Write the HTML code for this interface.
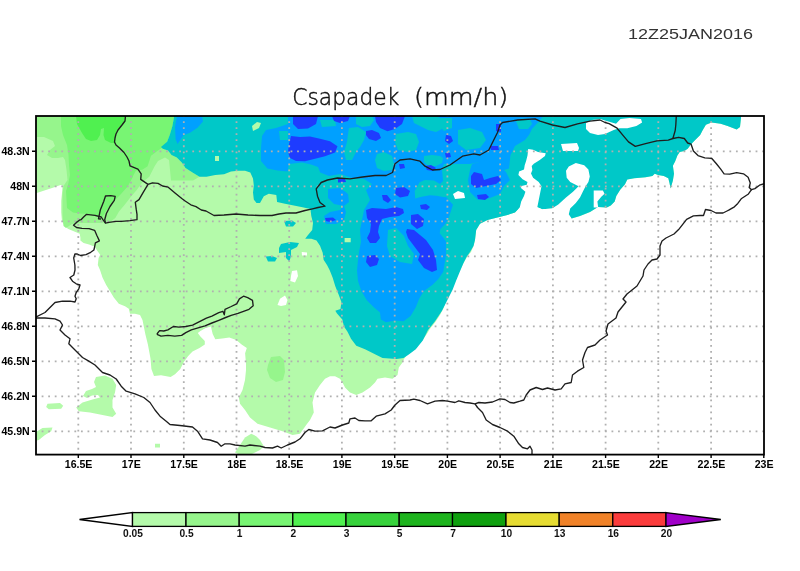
<!DOCTYPE html>
<html><head><meta charset="utf-8"><style>
html,body{margin:0;padding:0;background:#fff;overflow:hidden}
svg{display:block}
.t1{font-family:"Liberation Sans",sans-serif;font-size:14px;fill:#333}
.t2{font-family:"DejaVu Sans",sans-serif;font-weight:200;font-size:23px;fill:#111;stroke:#111;stroke-width:0.45px}
.ax{font-family:"Liberation Sans",sans-serif;font-size:10.6px;font-weight:bold;fill:#000}
.cb{font-family:"Liberation Sans",sans-serif;font-size:10.2px;font-weight:bold;fill:#111}
</style></head><body>
<svg width="800" height="571" viewBox="0 0 800 571">
<rect x="0" y="0" width="800" height="571" fill="#fff"/>
<text x="628" y="39" textLength="125" lengthAdjust="spacingAndGlyphs" class="t1">12Z25JAN2016</text>
<text x="292.3" y="104.5" textLength="107" lengthAdjust="spacingAndGlyphs" class="t2">Csapadek</text><text x="414" y="104.5" textLength="94.3" lengthAdjust="spacingAndGlyphs" class="t2">(mm/h)</text>
<clipPath id="cp"><rect x="36" y="116" width="728" height="338.6"/></clipPath>
<g clip-path="url(#cp)">
<polygon points="36.0,116.0 741.2,116.0 740.0,127.0 736.7,129.4 727.6,126.0 720.7,123.7 711.6,122.5 705.9,124.8 702.5,130.5 700.2,135.1 695.7,139.6 691.1,144.2 687.7,148.7 684.3,151.0 679.7,152.1 677.4,155.6 675.2,161.3 672.9,165.8 674.0,173.8 672.9,180.6 670.6,188.6 669.5,182.9 668.3,178.3 663.8,176.1 658.1,174.9 654.7,173.8 652.4,176.1 645.6,177.2 634.2,178.3 627.3,179.5 625.0,184.2 620.2,189.7 616.3,196.0 614.7,201.5 610.8,205.5 606.8,207.5 598.0,207.0 590.0,212.0 580.0,216.0 571.6,218.4 560.0,208.0 552.0,208.6 542.2,209.3 537.3,207.2 532.5,205.0 525.0,206.2 518.8,208.8 515.0,212.5 507.5,215.0 497.5,217.5 487.5,220.0 480.0,223.8 476.2,230.0 475.0,240.0 473.5,246.0 471.0,252.0 467.5,256.2 463.8,262.5 460.0,270.0 456.2,277.5 453.8,285.0 450.0,292.5 446.2,300.0 443.8,307.5 440.0,315.0 435.0,322.5 430.0,328.8 426.2,335.0 422.5,340.0 417.5,345.0 412.5,348.8 407.5,354.0 404.0,359.0 402.5,362.5 398.8,367.5 397.5,375.0 392.5,378.8 385.0,377.5 377.5,378.8 375.0,382.5 370.0,387.5 362.5,392.5 356.2,395.0 350.0,392.5 345.0,387.5 342.5,382.5 340.0,378.8 335.0,376.2 330.0,376.2 325.0,378.8 320.0,385.0 315.0,392.5 312.5,402.5 313.8,412.5 310.0,420.0 306.2,425.0 300.0,433.8 292.5,435.0 282.5,431.2 270.0,427.5 257.5,423.8 250.0,417.5 245.0,410.0 240.0,403.8 238.8,397.5 242.5,390.0 245.0,380.0 246.0,370.0 246.0,363.8 245.1,353.3 246.8,348.0 241.6,344.5 236.3,340.1 229.3,337.5 222.3,338.4 215.3,339.3 212.7,334.0 210.9,326.5 205.7,327.9 200.4,330.9 197.8,333.1 200.4,336.6 204.8,341.0 204.8,344.5 199.5,348.0 192.5,351.5 188.2,355.9 183.8,362.0 180.3,369.0 175.0,374.3 170.6,376.9 161.0,375.2 154.0,376.0 151.4,369.0 150.5,358.5 147.9,344.5 145.3,334.0 142.5,320.0 140.0,315.0 135.0,313.8 130.0,313.8 128.8,308.8 125.0,306.2 118.8,303.8 113.8,297.5 110.0,291.2 106.2,285.0 102.5,277.5 100.0,270.0 97.8,265.0 98.6,257.9 100.2,254.7 97.8,251.5 94.6,246.8 89.1,244.4 83.6,242.9 80.4,240.5 80.4,237.4 79.7,233.8 74.9,231.8 67.8,228.7 63.9,224.7 61.9,220.6 61.2,212.2 61.2,201.0 61.9,194.0 62.6,185.6 60.5,185.0 52.8,187.7 44.4,190.5 35.0,193.5" fill="#b4faaa"/>
<polygon points="235.0,452.5 240.0,445.0 245.0,437.5 251.2,433.8 256.2,436.2 260.0,440.0 263.8,446.2 260.0,450.0 252.5,453.8 242.5,456.0" fill="#b4faaa"/>
<polygon points="96.0,377.0 105.0,375.5 112.5,378.8 116.2,385.0 115.0,392.5 112.5,400.0 112.5,407.5 116.2,413.8 112.5,417.0 102.5,415.0 90.0,412.5 78.8,411.2 76.2,407.5 82.5,402.5 92.5,399.5 100.0,397.5 98.0,395.0 92.0,395.5 87.0,398.0 83.0,396.0 86.0,391.0 92.0,389.0 96.0,387.0 94.0,382.0" fill="#b4faaa"/>
<polygon points="47.5,403.8 60.0,403.0 63.2,405.8 61.2,408.8 48.8,409.2 46.2,407.0" fill="#b4faaa"/>
<polygon points="35.0,432.5 42.5,428.0 52.5,427.5 51.2,431.2 45.0,435.0 38.8,440.0 35.0,441.0" fill="#b4faaa"/>
<polygon points="155.0,443.8 160.0,443.8 160.0,447.5 155.0,447.5" fill="#b4faaa"/>
<polygon points="36.0,116.0 174.2,116.0 172.4,126.0 169.8,134.8 167.1,141.8 161.0,147.0 168.0,150.5 171.5,154.9 176.8,157.5 182.0,162.8 185.5,168.0 192.5,172.4 199.5,176.8 193.0,180.4 180.0,180.6 171.0,180.4 170.0,170.0 169.0,160.0 165.0,157.5 158.0,161.0 154.6,166.3 149.3,176.8 142.2,182.5 136.5,190.2 130.7,196.9 124.9,204.6 119.0,211.4 115.3,218.0 110.0,222.0 100.0,223.0 90.0,223.0 80.0,223.0 72.0,224.0 66.0,228.0 63.5,226.0 62.5,215.0 62.5,195.0 63.5,186.0 67.5,180.0 66.5,170.0 65.0,160.0 63.0,157.0 58.0,158.0 52.0,158.0 47.0,155.0 50.0,150.0 55.0,146.0 53.0,141.0 44.0,137.0 35.0,137.0" fill="#96f58c"/>
<polygon points="61.0,116.0 174.2,116.0 172.4,126.0 169.8,134.8 167.1,141.8 163.3,147.0 158.0,150.5 151.0,155.8 149.3,161.0 147.6,166.3 142.3,169.8 136.0,170.5 133.5,175.0 132.6,177.6 127.8,186.3 121.0,194.0 115.3,199.8 110.5,205.6 105.6,211.4 101.8,218.0 95.0,216.0 88.0,214.0 80.0,213.5 73.0,212.6 67.0,208.0 66.0,191.0 68.0,185.0 70.0,175.0 69.0,165.0 68.5,155.0 67.0,145.0 63.0,135.0 61.0,126.0" fill="#78f573"/>
<polygon points="76.0,116.0 126.0,116.0 125.0,121.5 123.5,124.0 118.5,128.0 116.0,133.0 115.0,143.0 111.0,143.0 105.0,140.0 103.5,135.0 104.0,128.0 101.0,129.0 100.0,135.0 97.0,140.0 91.0,141.0 86.0,139.0 82.0,133.0 77.0,124.0" fill="#50f050"/>
<polygon points="268.0,365.0 271.0,357.0 280.0,356.0 284.0,360.0 285.0,372.0 283.0,380.0 276.0,382.0 270.0,378.0 267.0,370.0" fill="#96f58c"/>
<polygon points="174.2,116.0 741.2,116.0 740.0,127.0 736.7,129.4 727.6,126.0 720.7,123.7 711.6,122.5 705.9,124.8 702.5,130.5 700.2,135.1 695.7,139.6 691.1,144.2 687.7,148.7 684.3,151.0 679.7,152.1 677.4,155.6 675.2,161.3 672.9,165.8 674.0,173.8 672.9,180.6 670.6,188.6 669.5,182.9 668.3,178.3 663.8,176.1 658.1,174.9 654.7,173.8 652.4,176.1 645.6,177.2 634.2,178.3 627.3,179.5 625.0,184.2 620.2,189.7 616.3,196.0 614.7,201.5 610.8,205.5 606.8,207.5 598.0,207.0 590.0,212.0 580.0,216.0 571.6,218.4 560.0,208.0 552.0,208.6 542.2,209.3 537.3,207.2 532.5,205.0 525.0,206.2 518.8,208.8 515.0,212.5 507.5,215.0 497.5,217.5 487.5,220.0 480.0,223.8 476.2,230.0 475.0,240.0 473.5,246.0 470.0,252.0 466.5,257.0 463.5,263.0 459.6,272.3 456.0,281.0 452.6,289.8 447.3,300.3 442.0,310.8 435.0,321.3 428.0,330.0 422.8,340.6 415.8,349.3 408.8,354.6 403.6,358.0 396.5,359.0 382.5,358.0 375.5,354.6 365.0,349.3 356.3,345.8 351.0,338.8 347.5,331.8 344.0,326.5 342.3,319.5 337.0,313.4 335.3,310.8 340.5,309.0 341.4,302.0 338.8,295.0 335.3,286.3 332.6,277.5 329.7,270.3 327.0,265.0 323.6,259.8 322.7,252.8 320.0,245.8 316.5,240.5 311.3,238.8 305.2,238.8 307.8,235.3 312.2,230.0 313.0,223.0 311.3,216.0 310.4,209.0 302.5,207.3 293.8,205.5 285.0,203.8 277.1,202.0 276.3,195.0 268.8,193.8 263.8,196.2 260.0,203.1 256.5,203.1 253.8,199.6 253.0,192.6 253.8,185.6 253.0,178.5 250.3,172.4 245.0,170.7 238.0,170.7 231.0,171.5 224.0,174.2 215.3,175.0 206.5,176.8 199.5,176.8 192.5,172.4 185.5,168.0 182.0,162.8 176.8,157.5 171.5,154.9 168.0,150.5 162.8,148.8 161.0,147.0 167.1,141.8 169.8,134.8 172.4,126.0" fill="#00c8c8"/>
<polygon points="284.0,221.0 292.0,220.5 296.0,223.0 293.0,226.5 286.0,226.5" fill="#00c8c8"/>
<polygon points="281.0,244.0 290.0,242.0 299.0,243.0 297.0,247.0 291.0,250.0 291.0,256.0 289.4,261.5 286.0,258.0 286.0,252.0 279.0,253.0 279.0,248.0" fill="#00c8c8"/>
<polygon points="265.8,256.5 272.0,256.0 277.0,258.0 275.0,261.5 268.0,261.5" fill="#00c8c8"/>
<polygon points="177.0,116.0 202.0,116.0 203.0,121.5 197.5,127.8 190.0,132.8 183.8,135.0 181.0,139.0 177.5,144.0 175.6,139.0 175.0,126.5" fill="#00a0ff"/>
<polygon points="288.0,116.0 548.0,116.0 542.5,117.0 538.8,121.5 532.0,129.0 529.0,135.0 525.0,140.0 515.0,146.0 510.5,155.0 509.0,168.5 504.0,170.0 496.0,168.0 490.0,164.0 480.0,162.0 470.0,164.0 460.0,164.0 444.0,164.0 442.0,170.0 443.0,180.0 446.0,186.0 446.0,197.0 453.0,204.7 449.0,217.0 447.4,220.6 444.6,224.8 440.4,229.0 439.7,233.2 443.2,237.4 446.0,241.6 446.0,255.0 444.5,264.3 443.3,271.7 438.4,279.0 432.3,285.0 423.7,291.3 419.3,298.5 415.8,307.3 410.6,316.0 403.6,321.3 394.8,320.4 386.0,322.2 380.8,319.5 380.0,312.5 373.8,307.3 366.8,300.3 361.5,291.5 358.0,281.0 357.0,270.5 358.0,260.0 359.0,252.0 361.0,242.0 360.0,230.0 362.0,220.0 364.0,210.0 370.0,200.0 366.0,190.0 372.0,184.0 364.0,179.0 352.0,178.0 340.5,174.0 329.0,176.0 320.2,172.5 318.0,167.0 311.0,164.6 302.0,162.4 289.0,164.0 287.6,171.4 277.5,170.5 267.4,168.6 261.0,161.0 261.0,148.0 262.0,136.0 266.0,130.0 276.0,128.0 288.0,124.0" fill="#00a0ff"/>
<polygon points="472.0,164.0 486.0,160.0 498.0,164.0 506.0,172.0 510.0,180.0 504.0,186.0 500.0,194.0 490.0,198.0 478.0,200.0 470.0,192.0 468.0,180.0 470.0,170.0" fill="#00a0ff"/>
<polygon points="328.0,189.0 340.0,188.0 348.0,194.0 349.0,202.0 344.0,206.0 334.0,204.0 328.0,198.0" fill="#00a0ff"/>
<polygon points="328.0,190.0 336.0,189.0 346.0,192.0 348.0,200.0 340.0,210.0 330.0,212.0 324.0,216.0 326.0,224.0 336.0,224.0 344.0,220.0 346.0,212.0 344.0,206.0" fill="#00a0ff"/>
<polygon points="320.0,120.0 335.0,120.0 336.0,126.0 322.0,127.0" fill="#00c8c8"/>
<polygon points="356.0,116.0 372.0,116.0 374.0,120.0 370.0,126.0 362.0,127.0 356.0,124.0" fill="#00c8c8"/>
<polygon points="279.0,131.0 288.0,131.0 288.0,140.0 280.0,140.0" fill="#00c8c8"/>
<polygon points="349.0,128.0 358.0,127.0 366.0,132.0 364.0,140.0 360.0,147.0 356.0,152.0 352.0,160.0 346.0,160.0 344.0,152.0 347.0,142.0 348.0,134.0" fill="#00c8c8"/>
<polygon points="377.0,154.0 384.0,152.0 392.0,156.0 394.0,164.0 392.0,170.0 384.0,171.0 377.0,168.0 375.0,160.0" fill="#00c8c8"/>
<polygon points="396.0,134.0 408.0,132.0 416.0,134.0 419.0,142.0 416.0,150.0 408.0,152.0 398.0,150.0 395.0,142.0" fill="#00c8c8"/>
<polygon points="412.0,116.0 436.0,116.0 444.0,120.0 444.0,128.0 436.0,132.0 428.0,130.0 420.0,126.0 414.0,123.0" fill="#00c8c8"/>
<polygon points="424.0,156.0 432.0,155.0 440.0,156.0 443.0,158.0 442.0,163.0 436.0,166.0 428.0,166.0 424.0,162.0" fill="#00c8c8"/>
<polygon points="458.0,130.0 470.0,128.0 482.0,132.0 486.0,140.0 480.0,148.0 466.0,150.0 458.0,144.0" fill="#00c8c8"/>
<polygon points="440.0,118.0 452.0,118.0 452.0,128.0 444.0,131.0 440.0,126.0" fill="#00c8c8"/>
<polygon points="516.0,121.0 522.0,118.5 530.0,119.0 532.0,124.0 528.0,129.0 519.0,129.0" fill="#00c8c8"/>
<polygon points="388.0,230.0 396.0,228.0 404.0,236.0 408.0,246.0 414.0,254.0 412.0,264.0 400.0,262.0 390.0,256.0 387.0,246.0" fill="#00c8c8"/>
<polygon points="414.7,191.0 419.4,182.6 424.7,180.0 434.0,180.5 440.0,184.0 446.0,178.0 452.0,180.0 452.0,195.0 444.7,197.3 436.3,195.8 430.0,195.2 421.5,196.8 415.2,198.4" fill="#00c8c8"/>
<polygon points="293.0,116.0 318.0,116.0 316.0,124.0 308.0,128.5 298.0,129.0 293.0,124.0" fill="#1e3cff"/>
<polygon points="291.0,136.0 300.0,137.0 310.0,136.5 320.0,138.8 330.0,141.2 337.5,146.2 335.0,152.5 325.0,156.2 315.0,158.8 305.0,161.2 296.0,161.0 290.0,158.0 288.0,152.0 289.0,144.0" fill="#1e3cff"/>
<polygon points="332.0,116.0 350.0,116.0 348.0,121.0 340.0,123.0 334.0,121.0" fill="#1e3cff"/>
<polygon points="375.0,116.0 405.0,116.0 402.0,124.0 395.0,129.0 387.5,131.2 380.0,128.0 376.0,122.0" fill="#1e3cff"/>
<polygon points="366.0,131.0 372.0,130.0 379.0,133.0 381.0,138.0 376.0,141.0 369.0,139.0 366.0,135.0" fill="#1e3cff"/>
<polygon points="446.0,135.0 451.0,136.0 453.0,141.0 449.0,144.0 445.0,141.0" fill="#1e3cff"/>
<polygon points="445.0,153.0 450.0,153.0 451.0,157.0 446.0,158.0" fill="#1e3cff"/>
<polygon points="425.0,166.0 431.0,165.0 436.0,168.0 433.0,171.0 427.0,170.0" fill="#1e3cff"/>
<polygon points="399.0,164.0 404.0,164.0 405.0,168.0 400.0,169.0" fill="#1e3cff"/>
<polygon points="396.0,188.0 404.0,187.0 410.0,191.0 408.0,196.0 400.0,197.5 395.0,194.0" fill="#1e3cff"/>
<polygon points="382.0,195.0 387.0,195.0 391.0,200.0 388.0,203.0 383.0,200.0" fill="#1e3cff"/>
<polygon points="366.0,210.0 372.0,208.0 386.0,209.0 396.0,207.0 403.0,209.0 404.0,213.0 399.0,216.0 390.0,217.0 382.0,219.0 379.0,226.0 378.0,232.0 380.0,238.0 376.0,243.0 370.0,243.0 367.0,238.0 370.0,232.0 371.0,224.0 367.0,218.0" fill="#1e3cff"/>
<polygon points="411.0,215.0 418.0,214.0 424.0,219.0 423.0,226.0 417.0,229.0 411.0,224.0" fill="#1e3cff"/>
<polygon points="407.0,229.0 414.0,230.0 426.0,240.0 433.0,250.0 436.0,260.0 437.0,270.0 432.0,272.0 424.0,268.0 418.0,260.0 420.0,254.0 414.0,246.0 408.0,238.0 406.0,232.0" fill="#1e3cff"/>
<polygon points="420.0,205.0 426.0,204.0 430.0,207.0 427.0,210.0 421.0,209.0" fill="#1e3cff"/>
<polygon points="474.0,172.0 482.0,174.0 484.0,180.0 490.0,178.0 498.0,176.0 501.0,180.0 496.0,184.0 486.0,186.0 476.0,188.0 471.0,184.0 471.0,176.0" fill="#1e3cff"/>
<polygon points="477.0,195.0 486.0,194.0 489.0,197.0 485.0,200.0 478.0,199.0" fill="#1e3cff"/>
<polygon points="490.0,146.0 498.0,146.0 499.0,150.0 491.0,150.0" fill="#1e3cff"/>
<polygon points="496.0,124.0 501.0,124.0 501.0,132.0 496.0,131.0" fill="#1e3cff"/>
<polygon points="338.0,179.0 345.0,179.0 346.0,182.0 338.0,182.5" fill="#1e3cff"/>
<polygon points="325.0,218.0 333.0,217.5 336.0,220.0 330.0,222.0 326.0,221.0" fill="#1e3cff"/>
<polygon points="367.0,256.0 375.0,255.0 379.0,259.0 377.0,265.0 370.0,267.0 366.0,262.0" fill="#1e3cff"/>
<polygon points="252.0,126.0 257.0,122.0 261.0,123.0 259.0,128.0 253.0,131.0" fill="#b4faaa"/>
<polygon points="215.0,156.0 219.0,156.0 219.0,161.0 215.0,161.0" fill="#b4faaa"/>
<polygon points="344.6,238.0 350.7,238.0 350.7,242.3 344.6,242.3" fill="#b4faaa"/>
<polygon points="453.0,194.0 458.0,191.0 464.0,193.0 465.0,198.0 455.0,199.0" fill="#ffffff"/>
<polygon points="561.0,144.0 577.0,143.0 579.0,148.0 578.0,151.0 563.0,151.0" fill="#ffffff"/>
<polygon points="586.0,123.0 592.0,120.0 600.0,119.0 616.0,123.7 620.5,119.1 629.6,118.0 641.0,119.1 642.1,122.5 636.4,126.0 627.3,128.2 619.4,128.2 613.7,130.0 605.0,134.0 598.0,135.0 590.0,133.0 586.0,129.0" fill="#ffffff"/>
<polygon points="528.2,149.1 533.1,149.8 538.0,151.9 545.7,153.3 545.0,156.1 539.4,160.3 533.8,163.8 531.7,165.9 532.4,170.1 531.0,173.6 533.1,177.8 538.7,182.0 541.5,186.2 540.1,193.2 538.7,200.2 537.3,207.2 542.2,209.3 542.0,215.0 520.0,215.0 515.6,212.8 519.8,207.2 521.2,201.6 524.0,196.0 525.4,191.8 521.2,188.3 520.5,186.2 526.8,184.8 527.5,182.0 522.6,179.2 518.4,175.0 519.1,171.5 524.0,169.4 524.7,165.2 526.1,161.0 527.5,155.4" fill="#ffffff"/>
<polygon points="542.2,209.3 552.0,208.6 558.3,204.4 566.0,197.4 573.0,191.8 578.6,186.2 570.2,182.0 566.7,177.8 566.0,170.8 568.8,166.6 575.8,163.1 584.2,165.2 588.4,169.4 589.8,176.4 588.4,182.0 585.6,186.2 582.8,191.8 580.0,197.4 575.8,203.0 570.2,208.6 568.8,214.2 571.6,218.4 560.0,220.0 542.0,215.0" fill="#ffffff"/>
<polygon points="593.7,190.5 602.9,190.5 604.5,193.7 601.3,196.8 597.4,201.5 598.2,207.6 593.7,207.6" fill="#ffffff"/>
<polygon points="301.7,252.0 307.0,252.5 307.0,255.4 302.0,255.4" fill="#ffffff"/>
<polygon points="292.0,271.0 297.0,270.3 298.0,276.0 295.0,282.6 290.3,281.0 291.0,276.0" fill="#ffffff"/>
<polygon points="277.5,305.0 280.0,298.8 285.0,295.5 287.5,300.0 286.0,305.0 281.0,306.0" fill="#ffffff"/>
<path d="M78.3,116.0V454.6M131.0,116.0V454.6M183.8,116.0V454.6M236.5,116.0V454.6M289.2,116.0V454.6M341.9,116.0V454.6M394.7,116.0V454.6M447.4,116.0V454.6M500.1,116.0V454.6M552.9,116.0V454.6M605.6,116.0V454.6M658.3,116.0V454.6M711.1,116.0V454.6" stroke="#b0b0b0" stroke-width="1.8" stroke-dasharray="1.8 4.25" stroke-dashoffset="0.9" fill="none"/>
<path d="M36,151.3H764M36,186.3H764M36,221.3H764M36,256.3H764M36,291.3H764M36,326.3H764M36,361.3H764M36,396.3H764M36,431.3H764" stroke="#b0b0b0" stroke-width="1.8" stroke-dasharray="1.8 4.75" stroke-dashoffset="0.9" fill="none"/>
<polyline points="125.5,116.0 125.0,121.0 122.0,125.0 118.0,130.0 116.0,134.0 115.0,138.0 114.5,142.0 116.0,145.0 119.5,148.0 124.0,152.5 127.0,157.0 129.0,161.0 130.0,165.9 137.9,169.2 141.2,173.8 140.7,179.4 148.0,184.4" fill="none" stroke="#1e1e1e" stroke-width="1.35" stroke-linejoin="round"/>
<polyline points="148.0,184.4 152.5,182.8 158.0,183.3 162.6,186.0 168.2,187.2 175.0,192.9 181.8,198.5 185.5,201.3 190.8,204.8 196.0,206.6 201.3,210.0 206.0,211.0 214.0,215.5 224.0,215.0 236.0,214.0 248.0,215.0 260.0,215.5 272.0,215.5 279.0,214.0 286.0,213.0 296.0,213.0 305.0,210.5 312.5,208.8 318.0,207.5 325.0,206.2 320.0,202.5 317.5,196.2 316.2,188.8 321.2,182.5 327.5,180.0 337.5,178.0 350.0,178.8 362.5,177.0 375.0,175.5 386.2,175.5 392.5,172.5 395.0,163.8 400.0,160.0 410.0,158.8 420.0,161.2 425.0,166.2 432.5,170.0 440.0,169.5 450.0,165.0 462.5,156.2 473.8,153.8 480.0,155.0 488.8,150.0 492.5,142.5 497.5,132.5 500.0,125.0 502.5,122.5 517.5,120.0 535.0,118.8 540.0,121.2 552.5,125.0 565.0,127.5 577.5,123.8 590.0,121.2 600.0,120.0 605.0,122.5 609.1,123.7 617.1,128.2 622.8,135.1 628.5,141.9 635.3,146.4 645.6,143.7 656.9,140.8 668.3,140.1 672.9,138.5 678.6,137.3 684.3,138.5 687.7,143.0 691.1,144.2 693.4,151.0 698.0,155.6 704.8,157.8 711.6,158.3 716.2,163.5 720.7,169.2 724.1,173.8 729.8,174.2 736.7,172.6 743.5,173.8 748.1,177.2 750.3,182.9 749.2,187.4 751.5,189.7 754.9,188.6 759.5,185.2 765.0,183.5" fill="none" stroke="#1e1e1e" stroke-width="1.35" stroke-linejoin="round"/>
<polyline points="676.3,116.0 675.8,125.0 675.2,130.5 672.9,138.5" fill="none" stroke="#1e1e1e" stroke-width="1.35" stroke-linejoin="round"/>
<polyline points="751.5,189.7 748.1,194.3 741.2,198.8 737.8,203.4 734.4,206.8 728.7,210.2 727.0,211.0 723.0,213.0 716.0,213.0 711.0,210.5 705.5,209.5 703.5,215.5 700.0,215.5 693.4,215.9 686.6,219.3 683.1,223.9 678.6,229.6 674.0,234.0 666.0,238.0 662.0,241.0 660.0,246.0 660.0,255.0 657.0,259.0 652.0,260.0 648.0,264.0 644.0,270.0 643.0,276.0 640.0,281.0 637.0,286.0 632.0,290.0 627.0,294.0 623.0,299.0 626.0,302.0 622.0,307.0 618.0,312.0 616.0,318.0 612.0,321.0 608.0,324.0 606.0,331.0 607.5,335.0 600.0,340.0 595.0,345.0 587.5,347.5 585.0,352.5 582.5,360.0 583.8,367.5 577.5,371.2 572.5,375.0 571.2,382.5 565.0,383.8 561.2,388.8 555.0,390.0 547.5,388.0 542.5,389.5 536.2,387.5 530.0,390.0 526.2,395.0 523.8,400.0 520.0,401.2 513.8,403.0 510.0,402.5 505.0,399.5 500.0,398.8 492.5,402.0 485.0,403.0 478.8,402.5 475.0,403.8 470.0,403.0 465.0,402.5 458.8,400.8 455.0,402.5 447.5,401.2 442.5,400.5 435.0,401.2 427.5,403.8 420.0,400.5 413.8,399.2 410.0,400.0 400.0,400.5 395.0,405.0 391.2,410.0 385.0,413.8 376.2,416.2 371.2,420.8 365.0,420.8 358.8,420.5 355.0,418.0 350.0,418.8 348.8,423.0 342.5,425.0 335.0,428.0 330.0,427.0 322.5,430.8 315.0,431.2 308.8,429.5 305.0,432.5 300.0,438.8 295.0,442.0 287.5,445.0 281.2,448.0 277.5,446.2 272.5,448.0 265.0,447.5 260.0,446.2 250.0,445.0 245.0,446.2 235.0,445.0 230.0,443.8 225.0,443.8 221.2,446.2 217.5,442.5 210.0,440.0 202.5,438.8 197.5,431.2 192.5,427.0 180.0,425.5 170.0,424.5 166.2,421.2 160.0,416.2 155.0,410.0 150.0,402.5 143.8,397.5 135.0,393.8 126.2,391.2 121.2,386.2 116.2,379.0 110.0,375.0 102.5,372.5 100.0,370.0 95.0,365.0 88.8,361.2 82.5,357.5 77.5,352.5 72.5,347.5 68.8,343.8 70.0,338.8 65.0,335.0 60.0,330.0 62.5,325.0 60.0,321.2 55.0,318.8 45.0,318.0 35.0,318.0" fill="none" stroke="#1e1e1e" stroke-width="1.35" stroke-linejoin="round"/>
<polyline points="35.0,317.5 45.0,312.5 50.0,307.5 55.0,302.5 62.5,301.2 70.0,301.2 75.0,302.0 76.2,298.8 75.0,296.2 76.2,292.5 78.8,288.8 80.0,285.0 76.2,283.8 72.5,281.2 70.0,277.5 73.8,275.0 75.0,270.0 74.9,265.0 73.7,258.0 74.9,254.0 77.3,254.0 80.4,255.5 86.0,254.7 90.7,252.3 93.9,250.0 94.6,246.8 95.4,242.9 99.4,240.9 97.0,235.8 94.6,230.3 89.1,228.7 82.0,228.3 76.5,227.5 73.5,225.3 76.5,222.4 79.7,220.0 81.0,219.7 83.6,217.0 86.3,214.4 95.0,215.3 101.2,217.0 102.9,219.7 105.5,223.2 109.0,222.3 116.0,221.4 121.3,221.4 130.0,220.6 137.0,219.7 137.0,214.4 136.2,209.2 135.3,202.2 139.0,199.6 143.5,191.8 148.0,184.4" fill="none" stroke="#1e1e1e" stroke-width="1.35" stroke-linejoin="round"/>
<polyline points="105.5,223.0 104.7,219.7 106.4,213.5 110.0,206.5 114.3,200.4 115.2,196.4 110.8,195.7 105.5,196.0 103.8,201.3 100.3,210.0 98.5,218.8 101.0,219.0" fill="none" stroke="#1e1e1e" stroke-width="1.35" stroke-linejoin="round"/>
<polyline points="156.9,334.0 159.6,330.6 163.8,331.0 167.9,329.9 173.4,326.5 178.9,327.1 185.8,326.5 192.6,325.1 199.5,321.6 206.4,318.2 211.9,316.1 218.8,312.7 222.9,311.3 224.3,314.8 225.0,309.3 231.2,306.5 236.7,303.8 239.4,298.9 243.5,296.2 247.7,297.6 252.5,300.3 253.2,305.8 249.0,309.3 243.5,311.3 238.0,313.4 231.2,315.4 225.7,317.5 218.8,320.3 211.9,323.0 205.0,325.8 198.1,327.8 191.3,329.9 185.8,332.6 181.6,335.4 174.8,336.1 167.9,335.4 161.0,336.1 157.6,334.7 156.9,334.0" fill="none" stroke="#1e1e1e" stroke-width="1.35" stroke-linejoin="round"/>
<polyline points="475.0,403.8 477.5,407.5 482.5,412.5 486.2,420.0 492.5,424.5 500.0,427.5 507.5,431.2 513.8,436.2 518.8,443.8 522.5,447.5 527.5,448.8 530.0,446.2 532.0,450.0 532.0,456.0" fill="none" stroke="#1e1e1e" stroke-width="1.35" stroke-linejoin="round"/>
</g>
<rect x="36" y="116" width="728" height="338.6" fill="none" stroke="#000" stroke-width="1.8"/>
<text x="78.6" y="467.8" class="ax" text-anchor="middle">16.5E</text>
<text x="131.3" y="467.8" class="ax" text-anchor="middle">17E</text>
<text x="184.1" y="467.8" class="ax" text-anchor="middle">17.5E</text>
<text x="236.8" y="467.8" class="ax" text-anchor="middle">18E</text>
<text x="289.5" y="467.8" class="ax" text-anchor="middle">18.5E</text>
<text x="342.2" y="467.8" class="ax" text-anchor="middle">19E</text>
<text x="395.0" y="467.8" class="ax" text-anchor="middle">19.5E</text>
<text x="447.7" y="467.8" class="ax" text-anchor="middle">20E</text>
<text x="500.4" y="467.8" class="ax" text-anchor="middle">20.5E</text>
<text x="553.2" y="467.8" class="ax" text-anchor="middle">21E</text>
<text x="605.9" y="467.8" class="ax" text-anchor="middle">21.5E</text>
<text x="658.6" y="467.8" class="ax" text-anchor="middle">22E</text>
<text x="711.4" y="467.8" class="ax" text-anchor="middle">22.5E</text>
<text x="764.1" y="467.8" class="ax" text-anchor="middle">23E</text>
<text x="29.7" y="155.2" class="ax" text-anchor="end">48.3N</text>
<text x="29.7" y="190.2" class="ax" text-anchor="end">48N</text>
<text x="29.7" y="225.2" class="ax" text-anchor="end">47.7N</text>
<text x="29.7" y="260.2" class="ax" text-anchor="end">47.4N</text>
<text x="29.7" y="295.2" class="ax" text-anchor="end">47.1N</text>
<text x="29.7" y="330.2" class="ax" text-anchor="end">46.8N</text>
<text x="29.7" y="365.2" class="ax" text-anchor="end">46.5N</text>
<text x="29.7" y="400.2" class="ax" text-anchor="end">46.2N</text>
<text x="29.7" y="435.2" class="ax" text-anchor="end">45.9N</text>
<path d="M78.3,454.6V458.1M131.0,454.6V458.1M183.8,454.6V458.1M236.5,454.6V458.1M289.2,454.6V458.1M341.9,454.6V458.1M394.7,454.6V458.1M447.4,454.6V458.1M500.1,454.6V458.1M552.9,454.6V458.1M605.6,454.6V458.1M658.3,454.6V458.1M711.1,454.6V458.1M763.8,454.6V458.1M36,151.3H32M36,186.3H32M36,221.3H32M36,256.3H32M36,291.3H32M36,326.3H32M36,361.3H32M36,396.3H32M36,431.3H32" stroke="#000" stroke-width="1.4"/>
<polygon points="79.5,519.5 132.5,512.6 132.5,526.4" fill="#fff" stroke="#000" stroke-width="1.3" stroke-linejoin="miter"/>
<rect x="132.5" y="512.6" width="53.5" height="13.8" fill="#b4faaa" stroke="#000" stroke-width="1.3"/>
<rect x="186" y="512.6" width="53.2" height="13.8" fill="#96f58c" stroke="#000" stroke-width="1.3"/>
<rect x="239.2" y="512.6" width="53.6" height="13.8" fill="#78f573" stroke="#000" stroke-width="1.3"/>
<rect x="292.8" y="512.6" width="53.2" height="13.8" fill="#50f050" stroke="#000" stroke-width="1.3"/>
<rect x="346" y="512.6" width="53.2" height="13.8" fill="#37d23c" stroke="#000" stroke-width="1.3"/>
<rect x="399.2" y="512.6" width="53.3" height="13.8" fill="#1eb41e" stroke="#000" stroke-width="1.3"/>
<rect x="452.5" y="512.6" width="53.5" height="13.8" fill="#0fa00f" stroke="#000" stroke-width="1.3"/>
<rect x="506" y="512.6" width="53.2" height="13.8" fill="#e6dc32" stroke="#000" stroke-width="1.3"/>
<rect x="559.2" y="512.6" width="53.6" height="13.8" fill="#f08228" stroke="#000" stroke-width="1.3"/>
<rect x="612.8" y="512.6" width="53.2" height="13.8" fill="#fa3c3c" stroke="#000" stroke-width="1.3"/>
<polygon points="666,512.6 720.8,519.5 666,526.4" fill="#a000c8" stroke="#000" stroke-width="1.3"/>
<text x="133.0" y="536.8" class="cb" text-anchor="middle">0.05</text>
<text x="186.5" y="536.8" class="cb" text-anchor="middle">0.5</text>
<text x="239.7" y="536.8" class="cb" text-anchor="middle">1</text>
<text x="293.3" y="536.8" class="cb" text-anchor="middle">2</text>
<text x="346.5" y="536.8" class="cb" text-anchor="middle">3</text>
<text x="399.7" y="536.8" class="cb" text-anchor="middle">5</text>
<text x="453.0" y="536.8" class="cb" text-anchor="middle">7</text>
<text x="506.5" y="536.8" class="cb" text-anchor="middle">10</text>
<text x="559.7" y="536.8" class="cb" text-anchor="middle">13</text>
<text x="613.3" y="536.8" class="cb" text-anchor="middle">16</text>
<text x="666.5" y="536.8" class="cb" text-anchor="middle">20</text>
</svg>
</body></html>
